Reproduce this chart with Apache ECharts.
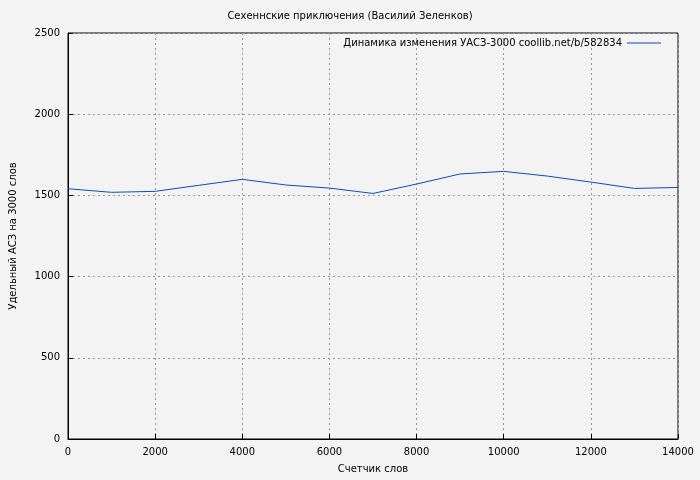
<!DOCTYPE html><html><head><meta charset="utf-8"><script src="https://cdn.jsdelivr.net/npm/echarts@6/dist/echarts.min.js"></script></head><body style="margin:0;background:#f3f3f3"><div id="c" style="width:700px;height:480px"></div><script>
const xs=[0,1000,2000,3000,4000,5000,6000,7000,8000,9000,10000,11000,12000,13000,14000];
const ys=[1541,1519,1525,1562,1599,1564,1545,1512,1570,1632,1648,1619,1582,1543,1549];
const seriesName='Динамика изменения УАСЗ-3000 coollib.net/b/582834';
const ch=echarts.init(document.getElementById('c'));
const f='DejaVu Sans';
ch.setOption({backgroundColor:'#f3f3f3',animation:false,
title:{text:'Сехеннские приключения (Василий Зеленков)',left:'center',top:6,textStyle:{fontFamily:f,fontSize:10,fontWeight:'normal',color:'#000'}},
legend:{right:34,top:33,itemWidth:34,itemHeight:1,icon:'rect',align:'right',textStyle:{fontFamily:f,fontSize:10,color:'#000'},itemGap:0},
grid:{left:67,right:22,top:33,bottom:41,show:true,borderColor:'#000',borderWidth:1,backgroundColor:'transparent'},
xAxis:{type:'value',min:0,max:14000,interval:2000,name:'Счетчик слов',nameLocation:'middle',nameGap:25,nameTextStyle:{fontFamily:f,fontSize:10,color:'#000'},
axisLine:{lineStyle:{color:'#000'}},axisTick:{inside:true,lineStyle:{color:'#000'}},axisLabel:{fontFamily:f,fontSize:10,color:'#000',formatter:v=>String(v)},
splitLine:{lineStyle:{color:'#999',type:[2,3]}}},
yAxis:{type:'value',min:0,max:2500,interval:500,name:'Удельный АСЗ на 3000 слов',nameLocation:'middle',nameGap:50,nameTextStyle:{fontFamily:f,fontSize:10,color:'#000'},
axisLine:{show:true,lineStyle:{color:'#000'}},axisTick:{show:true,inside:true,lineStyle:{color:'#000'}},axisLabel:{fontFamily:f,fontSize:10,color:'#000',formatter:v=>String(v)},
splitLine:{lineStyle:{color:'#999',type:[2,3]}}},
series:[{name:seriesName,type:'line',data:xs.map((x,i)=>[x,ys[i]]),showSymbol:false,lineStyle:{color:'#0b4fb8',width:1},itemStyle:{color:'#0b4fb8'}}]
});
</script></body></html>
